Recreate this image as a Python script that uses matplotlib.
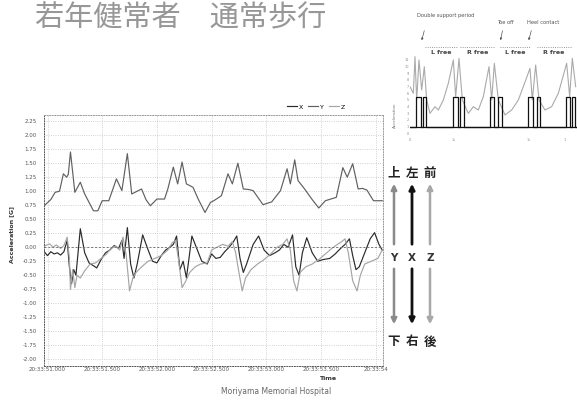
import matplotlib.pyplot as plt
import numpy as np

plt.rcParams['font.family'] = ['DejaVu Sans']
JP = ['Noto Sans CJK JP', 'DejaVu Sans']

# 時間 [s]（20:33:51.000 からの経過）と加速度 [G]
t_y = [-0.03, 0.03, 0.07, 0.11, 0.145, 0.175, 0.19, 0.21, 0.25, 0.30, 0.34, 0.38, 0.42, 0.46,
       0.50, 0.56, 0.60, 0.63, 0.68, 0.73, 0.77, 0.82, 0.86, 0.90, 0.94, 1.00, 1.07, 1.10,
       1.15, 1.19, 1.23, 1.27, 1.33, 1.38, 1.44, 1.49, 1.52, 1.59, 1.65, 1.69, 1.74, 1.79,
       1.84, 1.88, 1.97, 2.05, 2.13, 2.19, 2.22, 2.26, 2.29, 2.35, 2.42, 2.48, 2.54, 2.64,
       2.70, 2.74, 2.79, 2.84, 2.88, 2.92, 2.98, 3.06]
acc_y = [0.74, 0.85, 0.98, 1.00, 1.31, 1.25, 1.30, 1.70, 0.98, 1.16, 0.95, 0.80, 0.65, 0.65,
         0.83, 0.83, 1.05, 1.22, 1.01, 1.67, 0.95, 1.00, 1.04, 0.85, 0.74, 0.86, 0.86, 1.04,
         1.43, 1.13, 1.52, 1.13, 1.07, 0.85, 0.62, 0.80, 0.83, 0.92, 1.31, 1.13, 1.50, 1.04,
         1.03, 1.01, 0.76, 0.81, 1.01, 1.40, 1.13, 1.56, 1.19, 1.04, 0.85, 0.70, 0.83, 0.89,
         1.42, 1.25, 1.49, 1.04, 1.05, 1.02, 0.83, 0.83]

t_x = [-0.03, 0.00, 0.03, 0.06, 0.09, 0.12, 0.15, 0.18, 0.20, 0.22, 0.24, 0.26, 0.30, 0.34,
       0.38, 0.42, 0.45, 0.49, 0.53, 0.57, 0.61, 0.65, 0.68, 0.70, 0.73, 0.76, 0.79, 0.82,
       0.87, 0.92, 0.96, 1.00, 1.04, 1.08, 1.12, 1.15, 1.18, 1.21, 1.24, 1.27, 1.32, 1.37,
       1.41, 1.46, 1.50, 1.54, 1.58, 1.62, 1.66, 1.70, 1.73, 1.76, 1.79, 1.82, 1.88, 1.93,
       1.98, 2.03, 2.08, 2.12, 2.16, 2.20, 2.24, 2.27, 2.30, 2.33, 2.37, 2.42, 2.47, 2.52,
       2.58, 2.63, 2.68, 2.72, 2.76, 2.79, 2.82, 2.85, 2.90, 2.95, 2.99, 3.03, 3.06]
acc_x = [-0.08, -0.15, -0.08, -0.12, -0.10, -0.14, -0.08, 0.12, -0.35, -0.65, -0.40, -0.50,
         0.33, -0.10, -0.28, -0.33, -0.37, -0.22, -0.10, -0.05, 0.03, -0.02, 0.12, -0.20,
         0.35, -0.30, -0.55, -0.30, 0.22, -0.05, -0.25, -0.28, -0.15, -0.05, 0.00, 0.05,
         0.20, -0.40, -0.25, -0.55, 0.20, -0.05, -0.25, -0.30, -0.12, -0.20, -0.18, -0.08,
         0.00, 0.10, 0.20, -0.20, -0.45, -0.30, 0.05, 0.20, -0.05, -0.15, -0.10, -0.05,
         0.05, 0.00, 0.22, -0.35, -0.50, -0.10, 0.17, -0.10, -0.25, -0.22, -0.20, -0.12,
         -0.02, 0.05, 0.15, -0.15, -0.40, -0.35, -0.10, 0.15, 0.26, 0.05, -0.05]

t_z = [-0.03, 0.02, 0.05, 0.08, 0.12, 0.15, 0.18, 0.20, 0.21, 0.23, 0.25, 0.27, 0.30, 0.34,
       0.39, 0.44, 0.49, 0.54, 0.58, 0.62, 0.66, 0.69, 0.72, 0.75, 0.78, 0.81, 0.86, 0.92,
       0.98, 1.04, 1.10, 1.14, 1.17, 1.20, 1.23, 1.26, 1.30, 1.35, 1.40, 1.46, 1.50, 1.55,
       1.60, 1.65, 1.69, 1.72, 1.75, 1.78, 1.81, 1.86, 1.92, 1.98, 2.04, 2.10, 2.15, 2.19,
       2.22, 2.25, 2.28, 2.31, 2.36, 2.42, 2.48, 2.54, 2.60, 2.65, 2.69, 2.72, 2.75, 2.79,
       2.83, 2.86, 2.90, 2.96, 3.02, 3.06]
acc_z = [0.02, 0.06, 0.00, 0.04, -0.02, 0.03, 0.18, -0.20, -0.75, -0.40, -0.72, -0.50, -0.55,
         -0.42, -0.30, -0.28, -0.20, -0.12, -0.02, 0.02, -0.05, 0.18, -0.15, -0.78, -0.55,
         -0.45, -0.35, -0.25, -0.20, -0.15, -0.05, 0.08, 0.12, -0.25, -0.72, -0.62, -0.45,
         -0.35, -0.30, -0.28, -0.05, 0.00, 0.05, 0.02, 0.10, -0.10, -0.45, -0.78, -0.55,
         -0.40, -0.30, -0.22, -0.12, 0.00, 0.05, 0.15, -0.05, -0.60, -0.78, -0.45, -0.35,
         -0.30, -0.22, -0.12, -0.02, 0.05, 0.10, 0.15, -0.10, -0.60, -0.78, -0.50, -0.30,
         -0.25, -0.20, -0.05]

time_ticks = [0, 0.5, 1.0, 1.5, 2.0, 2.5, 3.0]
time_labels = ['20:33:51.000', '20:33:51.500', '20:33:52.000', '20:33:52.500',
               '20:33:53.000', '20:33:53.500', '20:33:54']

# 右上の参考図（歩行周期）
ref_t = [0.15, 0.25, 0.30, 0.35, 0.42, 0.50, 0.58, 0.65, 0.75, 0.90, 1.00, 1.15, 1.30, 1.45,
         1.52, 1.62, 1.72, 1.90, 2.05, 2.20, 2.35, 2.52, 2.60, 2.68, 2.80, 3.00, 3.20, 3.40,
         3.55, 3.75, 3.82, 3.92, 4.02, 4.20, 4.40, 4.60, 4.85, 4.94, 5.02, 5.12]
ref_acc = [7.0, 6.0, 11.5, 5.0, 11.0, 6.5, 10.0, 5.0, 3.0, 4.0, 3.5, 5.0, 7.5, 11.0,
           5.5, 11.25, 5.0, 3.0, 4.0, 3.5, 5.5, 10.0, 5.0, 10.5, 5.0, 2.75, 3.5, 5.0,
           7.0, 9.75, 5.0, 10.25, 5.0, 3.5, 4.0, 6.0, 10.5, 5.5, 11.25, 7.0]
stepA_t = [0.15, 0.33, 0.47, 1.45, 1.60, 2.55, 2.68, 3.70, 3.83, 4.83, 4.95, 5.16]
stepA_v = [1.0, 5.5, 1.0, 5.5, 1.0, 5.5, 1.0, 5.5, 1.0, 5.5, 1.0, 1.0]
stepB_t = [0.15, 0.53, 0.63, 1.65, 1.78, 2.80, 2.92, 3.95, 4.05, 5.00, 5.10, 5.16]
stepB_v = [1.0, 5.5, 1.0, 5.5, 1.0, 5.5, 1.0, 5.5, 1.0, 5.5, 1.0, 1.0]
free_labels = ['L free', 'R free', 'L free', 'R free']
free_from = [0.60, 1.65, 2.85, 3.95]
free_to = [1.60, 2.70, 3.75, 5.00]

W, H = 577, 401


def fx(px):
    return px / W


def fy(py):
    return 1 - py / H


fig = plt.figure(figsize=(5.77, 4.01), dpi=100)

# メインのグラフ
ax = fig.add_axes([fx(44), fy(366), (383 - 44) / W, (366 - 115) / H])
ax.plot(t_x, acc_x, color='#2a2a2a', lw=0.85, label='X')
ax.plot(t_y, acc_y, color='#606060', lw=0.85, label='Y')
ax.plot(t_z, acc_z, color='#a5a5a5', lw=0.85, label='Z')
ax.axhline(0, color='#777777', ls=(0, (2, 2)), lw=0.7)
ax.set_xlim(-0.032, 3.067)
ax.set_ylim(-2.12, 2.36)
ax.set_xticks(time_ticks)
ax.set_xticklabels(time_labels)
ax.set_yticks(np.arange(-2.0, 2.26, 0.25))
ax.yaxis.set_major_formatter(plt.FormatStrFormatter('%.2f'))
ax.tick_params(labelsize=4, length=0, colors='#555555')
ax.tick_params(axis='y', pad=5)
ax.tick_params(axis='x', pad=1)
ax.grid(True, color='#c4c4c4', ls=':', lw=0.6)
for s in ax.spines.values():
    s.set_linestyle(':')
    s.set_color('#999999')
    s.set_linewidth(0.7)
ax.spines['left'].set_color('#555555')
ax.spines['bottom'].set_color('#555555')

fig.legend(loc='center', bbox_to_anchor=(fx(316), fy(107)), ncol=3, frameon=False,
           fontsize=4.5, handlelength=1.6, columnspacing=0.8, handletextpad=0.3)

fig.text(fx(12), fy(235), 'Acceleration [G]', rotation=90, fontsize=4.5, weight='bold',
         color='#333333', ha='center', va='center')
fig.text(fx(328), fy(379), 'Time', fontsize=4.5, weight='bold', color='#333333',
         ha='center', va='center')
fig.text(fx(276), fy(392), 'Moriyama Memorial Hospital', fontsize=5.5, color='#666666',
         ha='center', va='center')

# タイトル
fig.text(fx(35), fy(18), '若年健常者\u3000通常歩行', fontsize=21, color='#979797',
         family=JP, ha='left', va='center')

# 方向の矢印
arrow_x = [394, 412, 430]
arrow_col = ['#8a8a8a', '#111111', '#a8a8a8']
for x, c, top, axis_name, bottom in zip(arrow_x, arrow_col, '上左前', 'YXZ', '下右後'):
    fig.text(fx(x), fy(173), top, fontsize=9, weight='bold', family=JP, color='#222222',
             ha='center', va='center')
    fig.text(fx(x), fy(258), axis_name, fontsize=7.5, weight='bold', color='#333333',
             ha='center', va='center')
    fig.text(fx(x), fy(342), bottom, fontsize=9, weight='bold', family=JP, color='#222222',
             ha='center', va='center')
    lw = 2.0 if c == '#111111' else 1.8
    fig.add_artist(plt.matplotlib.patches.FancyArrowPatch(
        (fx(x), fy(247)), (fx(x), fy(181)), transform=fig.transFigure,
        arrowstyle='-|>', mutation_scale=8, color=c, lw=lw))
    fig.add_artist(plt.matplotlib.patches.FancyArrowPatch(
        (fx(x), fy(266)), (fx(x), fy(327)), transform=fig.transFigure,
        arrowstyle='-|>', mutation_scale=8, color=c, lw=lw))

# 右上の参考図
ax2 = fig.add_axes([fx(410), fy(137), 167 / W, 82 / H])
ax2.plot(ref_t, ref_acc, color='#aaaaaa', lw=0.8)
ax2.step(stepA_t, stepA_v, where='post', color='#111111', lw=0.9)
ax2.step(stepB_t, stepB_v, where='post', color='#111111', lw=0.9)
ax2.set_xlim(0.15, 5.16)
ax2.set_ylim(-0.55, 11.75)
for s in ax2.spines.values():
    s.set_visible(False)
ax2.set_yticks(np.arange(0, 12, 1))
ax2.set_xticks([0.15, 1.45, 3.70, 4.80])
ax2.set_xticklabels(['0', '1s', '1s', '1'])
ax2.tick_params(labelsize=2.5, length=0, pad=1, colors='#888888')
for lab, a, b in zip(free_labels, free_from, free_to):
    ax2.plot([a, b], [12.95, 12.95], color='#777777', ls=':', lw=0.6, clip_on=False)
    ax2.text((a + b) / 2, 12.05, lab, fontsize=4.5, weight='bold', color='#444444',
             ha='center', va='center', clip_on=False)

fig.text(fx(395), fy(115), 'Acceleration', rotation=90, fontsize=3, color='#777777',
         ha='center', va='center')
fig.text(fx(446), fy(15), 'Double support period', fontsize=3.7, color='#555555',
         ha='center', va='center')
fig.text(fx(505), fy(23), 'Toe off', fontsize=3.7, color='#555555', ha='center', va='center')
fig.text(fx(543), fy(23), 'Heel contact', fontsize=3.7, color='#555555', ha='center',
         va='center')
for x0, x1 in [(425, 421), (503, 500), (532, 528)]:
    fig.add_artist(plt.matplotlib.patches.FancyArrowPatch(
        (fx(x0), fy(28)), (fx(x1), fy(43)), transform=fig.transFigure,
        arrowstyle='-|>', mutation_scale=3, color='#555555', lw=0.5))

fig.savefig('out.png', dpi=100)
